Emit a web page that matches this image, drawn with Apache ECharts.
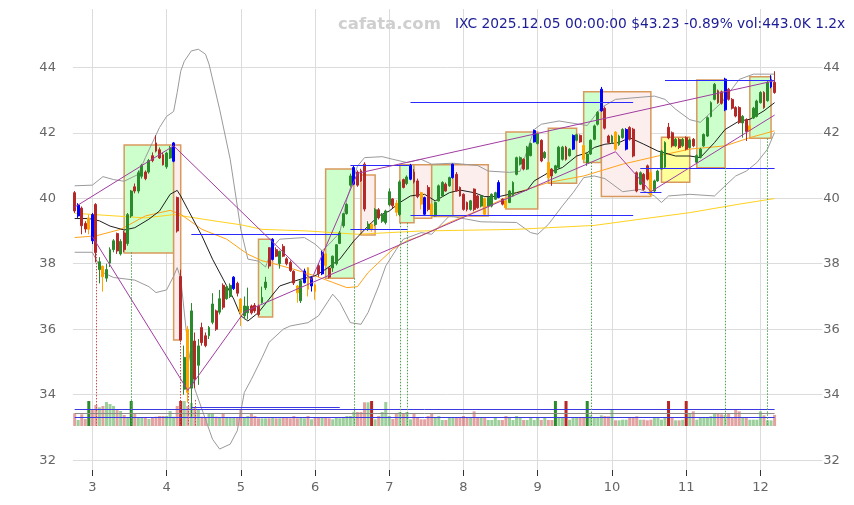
<!DOCTYPE html>
<html>
<head>
<meta charset="utf-8">
<script src="https://cdn.jsdelivr.net/npm/echarts@6/dist/echarts.min.js"></script>
<style>
  html, body { margin: 0; padding: 0; background: #fff; }
  #chart { width: 854px; height: 505px; }
</style>
</head>
<body>
<div id="chart"></div>
<script>
// trading calendar (categories)
const firstDay = '2025-02-24';
const lastDay = '2025-12-05';
const holidays = ['2025-04-18', '2025-05-26', '2025-06-19', '2025-07-04', '2025-09-01', '2025-11-27'];

// daily OHLC
const opens = [
  40.17,39.46,39.70,39.23,39.05,39.50,39.81,37.82,37.92,37.56,
  38.02,38.43,38.92,38.30,38.94,38.62,39.46,40.35,40.22,40.67,
  40.80,40.80,41.30,41.69,41.48,41.33,40.96,41.23,41.13,40.02,
  37.61,34.17,36.00,34.20,35.64,34.90,36.05,35.80,35.80,36.21,
  36.56,36.52,37.34,36.93,37.00,37.24,37.40,36.92,36.41,36.50,
  36.71,36.73,36.70,36.81,37.27,38.49,38.13,38.43,38.00,38.53,
  38.15,38.04,37.77,37.32,36.87,37.42,37.88,37.32,37.35,37.94,
  37.69,38.30,37.87,37.87,38.00,38.62,39.16,39.53,40.40,40.43,
  40.80,40.84,41.04,39.06,39.20,39.20,39.65,39.30,39.26,39.80,
  39.98,39.85,39.50,40.57,40.45,40.58,40.80,40.53,40.17,40.02,
  40.33,39.82,39.46,39.92,40.07,40.43,40.38,40.63,40.73,40.33,
  40.12,39.87,39.66,40.28,40.07,39.76,39.99,39.76,39.76,39.97,
  40.02,39.97,39.92,39.87,40.07,40.73,41.04,41.19,40.89,41.30,
  41.72,41.67,41.77,41.24,41.09,40.89,40.78,40.94,41.19,41.56,
  41.30,41.50,41.77,41.92,41.61,41.09,41.35,41.80,42.26,42.67,
  42.75,41.90,41.70,42.02,41.64,41.85,41.50,42.16,42.11,40.78,
  40.43,40.73,40.99,40.78,40.22,40.53,40.89,40.95,42.17,42.00,
  41.60,41.80,41.60,41.85,41.55,41.80,41.10,41.25,41.60,41.90,
  42.50,43.02,43.28,43.25,42.70,43.33,43.02,42.77,42.77,42.30,
  42.40,42.06,42.45,42.50,42.92,43.23,42.98,43.40,43.54
];
const closes = [
  39.61,39.79,39.16,39.06,39.40,38.70,38.34,38.06,37.60,37.82,
  38.43,38.70,38.39,38.68,38.43,39.50,40.22,40.22,40.78,41.00,
  40.60,41.15,41.15,41.44,41.23,41.02,41.38,41.54,41.69,39.00,
  35.67,35.14,34.07,36.56,34.48,35.49,35.59,35.50,36.05,36.77,
  36.00,36.93,36.67,37.29,37.34,37.59,37.10,36.51,36.71,36.70,
  36.50,36.56,36.45,36.97,37.44,37.93,38.74,38.23,38.38,38.23,
  38.00,37.79,37.41,37.11,37.48,37.78,37.22,37.58,37.15,37.69,
  38.35,37.95,37.59,38.23,38.58,38.94,39.53,39.81,40.68,40.94,
  40.40,40.53,39.67,39.21,39.05,39.65,39.40,39.50,39.61,40.20,
  39.77,39.57,40.50,40.33,40.65,41.01,40.50,40.05,39.82,39.51,
  39.66,39.46,39.87,40.38,40.48,40.22,40.63,41.04,40.22,40.07,
  39.66,39.66,39.92,39.66,39.71,40.07,39.51,40.02,40.12,40.17,
  40.48,39.82,39.71,40.22,40.48,41.24,41.24,40.89,41.56,41.67,
  42.07,41.97,41.14,41.40,40.63,40.68,40.99,41.56,41.56,41.19,
  41.50,41.92,41.94,41.72,41.19,41.35,41.77,42.21,42.62,43.33,
  42.14,41.70,41.90,41.50,41.90,42.10,42.10,41.80,41.29,40.22,
  40.78,40.27,40.58,40.11,40.53,40.83,41.44,41.70,41.84,41.60,
  41.80,41.55,41.80,41.50,41.78,41.60,41.30,41.50,41.95,42.46,
  42.92,43.48,42.92,42.90,43.64,43.02,42.75,42.51,42.31,42.50,
  42.04,42.21,42.75,42.97,43.23,42.77,43.54,43.62,43.23
];
const lows = [
  39.55,39.40,38.90,38.95,38.90,38.60,38.04,37.40,37.15,37.45,
  37.90,38.35,38.30,38.25,38.35,38.55,39.40,40.15,40.15,40.60,
  40.55,40.75,41.10,41.40,41.20,41.00,40.90,41.20,41.10,38.95,
  35.60,34.00,33.76,33.33,34.20,34.30,35.50,35.45,35.70,36.15,
  35.95,36.45,36.60,36.90,36.95,37.20,37.00,36.10,36.30,36.30,
  36.45,36.50,36.40,36.78,37.20,37.85,38.10,38.20,37.85,38.20,
  37.95,37.75,37.35,36.81,36.80,37.40,37.00,37.15,36.90,37.60,
  37.65,37.90,37.55,37.75,37.95,38.60,39.10,39.50,40.35,40.40,
  40.35,40.50,39.60,39.00,38.98,39.15,39.35,39.25,39.20,39.75,
  39.70,39.45,39.45,40.30,40.40,40.55,40.45,40.00,39.66,39.48,
  39.60,39.42,39.44,39.90,40.05,40.20,40.35,40.60,40.20,40.05,
  39.62,39.60,39.62,39.60,39.68,39.72,39.47,39.72,39.72,39.95,
  40.00,39.78,39.68,39.85,40.05,40.70,41.00,40.85,40.86,41.28,
  41.70,41.64,41.10,41.20,40.58,40.38,40.75,40.90,41.15,41.15,
  41.27,41.47,41.74,41.69,41.15,40.99,41.32,41.77,42.22,42.64,
  42.10,41.66,41.66,41.45,41.60,41.82,41.46,41.76,41.25,40.18,
  40.40,40.23,40.54,40.06,40.18,40.50,40.86,40.92,41.80,41.55,
  41.56,41.50,41.56,41.46,41.52,41.56,41.06,41.22,41.57,41.87,
  42.47,42.99,42.88,42.86,42.66,42.98,42.71,42.47,42.27,41.85,
  41.75,42.03,42.42,42.47,42.89,42.73,42.95,43.36,43.19
];
const highs = [
  40.22,39.85,39.75,39.30,39.50,39.55,39.85,38.20,37.95,38.00,
  38.50,38.75,38.95,38.75,39.00,39.55,40.25,40.45,40.85,41.05,
  40.85,41.20,41.40,41.92,41.55,41.40,41.42,41.60,41.72,40.05,
  37.82,35.50,36.10,36.80,35.90,35.70,36.20,35.90,36.10,37.10,
  36.60,37.20,37.40,37.35,37.40,37.62,37.45,36.95,37.00,37.27,
  36.75,36.80,36.75,37.30,37.60,38.50,38.78,38.50,38.40,38.60,
  38.20,38.10,37.80,37.35,37.50,37.85,37.90,37.60,37.40,38.00,
  38.40,38.50,37.90,38.25,38.60,39.00,39.55,39.85,40.75,41.00,
  40.85,40.90,41.10,39.30,39.25,39.70,39.70,39.55,39.65,40.30,
  40.00,39.95,40.55,40.60,40.70,41.05,40.89,40.60,40.20,40.05,
  40.40,39.85,39.90,40.42,40.52,40.48,40.66,41.06,40.80,40.36,
  40.15,39.90,39.95,40.30,40.10,40.10,40.02,40.05,40.15,40.20,
  40.55,40.00,39.95,40.25,40.52,41.27,41.28,41.22,41.60,41.70,
  42.10,42.00,41.80,41.44,41.12,40.92,41.02,41.60,41.60,41.60,
  41.53,41.95,41.97,41.95,41.64,41.38,41.80,42.25,42.66,43.40,
  42.80,41.94,41.94,42.05,41.94,42.14,42.14,42.20,42.15,40.82,
  40.82,40.77,41.03,40.82,40.57,40.87,41.48,41.74,42.30,42.04,
  41.84,41.84,41.84,41.89,41.82,41.84,41.34,41.54,41.98,42.50,
  42.96,43.52,43.32,43.29,43.68,43.37,43.06,42.81,42.81,42.54,
  42.44,42.25,42.79,43.01,43.27,43.27,43.58,43.76,43.88
];
// volume, thousands of shares
const volumes = [
  508,240,468,280,1000,640,840,748,800,960,
  880,800,640,600,440,360,1000,508,348,348,
  348,280,348,372,400,400,400,600,372,800,
  1000,1000,800,920,720,640,372,320,508,508,
  372,320,508,320,320,320,320,640,360,400,
  480,400,308,308,308,308,360,308,308,360,
  360,308,400,308,320,308,400,268,320,360,
  320,348,308,268,320,308,360,400,400,572,
  560,560,948,948,1000,268,400,560,960,400,
  280,480,560,480,560,268,480,320,268,268,
  400,480,320,400,240,240,320,320,320,320,
  400,320,320,588,320,320,320,240,240,320,
  240,240,400,320,240,400,320,240,240,320,
  240,320,240,320,240,240,1000,320,320,1000,
  252,320,320,320,320,1000,428,320,320,428,
  400,388,652,228,228,252,252,320,320,388,
  252,252,228,252,320,320,252,320,1000,320,
  228,228,252,1000,492,588,252,320,320,320,
  388,492,492,468,440,492,320,652,588,320,
  320,252,252,252,588,428,228,228,443
];
const blueIdx = [1,5,28,45,56,65,67,70,79,95,99,107,120,130,141,149,156,184,197];
const orangeIdx = [4,8,32,47,63,66,68,71,84,91,98,101,116,122,134,144,153,163,191];
const spikeIdx = [4,16,30,84,136,139,145,168,173];

const xTickIdx = [5,26,47,68,89,110,131,152,173,194];
const xTickLabels = ['3','4','5','6','7','8','9','10','11','12'];

// indicator lines, [day index, price]
const bbUpper = [[0,40.38],[5,40.4],[8,40.66],[11,40.57],[14,40.52],[18,40.73],[20,41.24],[22,41.7],[24,42.16],[26,42.5],[28,42.65],[29,43.23],[30,43.88],[31,44.18],[33,44.5],[35,44.55],[37,44.4],[38,44.1],[41,42.72],[44,41.19],[47,39.05],[49,38.14],[52,38.08],[54,37.9],[56,38.5],[58,38.75],[65,38.8],[68,38.6],[70,38.4],[72,38.6],[75,38.95],[77,39.97],[80,40.98],[82,41.24],[87,41.27],[90,41.19],[94,41.09],[98,41.19],[101,41.04],[107,41.07],[114,41.0],[117,40.83],[123,40.79],[126,40.82],[130,42.1],[132,42.26],[137,42.36],[145,42.22],[149,42.77],[153,43.02],[164,43.12],[167,43.02],[170,42.72],[174,42.4],[177,42.32],[183,42.92],[188,43.63],[192,43.79],[198,43.79]];
const bbLower = [[0,38.35],[5,38.35],[8,37.73],[11,37.58],[17,37.5],[21,37.3],[23,37.12],[26,37.2],[28,37.62],[29,37.88],[30,37.55],[32,35.5],[34,34.17],[37,33.25],[39,32.64],[41,32.34],[44,32.49],[46,32.9],[48,34.07],[50,34.47],[53,35.13],[55,35.6],[59,36.0],[61,36.1],[66,36.2],[69,36.41],[73,37.07],[75,36.82],[78,36.2],[81,36.15],[83,36.51],[86,37.32],[88,37.93],[91,38.44],[93,38.75],[98,38.95],[101,38.9],[106,39.46],[115,39.28],[125,39.26],[129,38.95],[131,38.9],[134,39.2],[138,39.77],[141,40.17],[144,40.63],[147,40.68],[150,40.6],[155,40.2],[160,40.27],[164,40.07],[166,39.87],[168,40.07],[174,40.12],[181,40.07],[184,40.38],[187,40.68],[190,40.83],[193,41.09],[196,41.5],[198,42.01]];
const bbMiddle = [[0,39.38],[4,39.38],[7,39.31],[10,39.15],[14,39.03],[17,39.1],[21,39.36],[24,39.61],[27,40.12],[29,40.24],[30,40.07],[32,39.66],[33,39.46],[36,38.85],[39,38.14],[42,37.53],[45,36.92],[47,36.41],[49,36.25],[52,36.51],[55,36.92],[58,37.32],[61,37.43],[64,37.53],[68,37.63],[71,37.83],[75,38.14],[79,38.7],[83,39.15],[86,39.46],[89,39.61],[92,39.87],[95,40.07],[97,40.1],[99,40.12],[102,39.92],[106,40.17],[109,40.25],[113,40.17],[116,40.05],[120,40.05],[125,40.17],[128,40.25],[130,40.53],[134,40.78],[138,40.94],[142,41.29],[145,41.39],[147,41.55],[150,41.65],[154,41.7],[157,41.85],[161,41.65],[165,41.44],[170,41.29],[174,41.29],[177,41.24],[181,41.7],[184,42.1],[188,42.36],[191,42.41],[195,42.67],[198,42.92]];
const maOrange = [[0,38.8],[6,38.85],[13,39.05],[20,39.46],[27,39.63],[30,39.51],[36,39.05],[43,38.75],[47,38.44],[49,38.29],[53,38.09],[55,38.04],[62,37.83],[68,37.63],[73,37.43],[77,37.27],[80,37.3],[83,37.73],[87,38.14],[90,38.44],[94,38.7],[98,38.85],[106,39.26],[115,39.66],[125,40.17],[134,40.48],[144,40.68],[155,41.04],[165,41.29],[174,41.5],[184,41.6],[191,41.85],[198,42.06]];
const maYellow = [[0,39.54],[20,39.4],[28,39.5],[40,39.3],[47,39.19],[53,39.05],[66,39.0],[80,38.9],[98,39.0],[125,39.05],[134,39.1],[147,39.17],[160,39.36],[174,39.56],[188,39.82],[198,39.99]];

// trend boxes: [from, to, low, high, kind]
const boxes = [
  [14,28,38.33,41.63,'up'],[28,30,35.67,41.63,'down'],[52,56,36.37,38.75,'up'],
  [71,79,37.56,40.89,'up'],[81,85,38.88,40.71,'down'],[92,96,39.25,41.02,'up'],
  [96,101,39.39,41.02,'down'],[101,107,39.44,41.02,'up'],[107,117,39.46,41.02,'down'],
  [122,131,39.67,42.02,'up'],[134,142,40.46,42.14,'up'],[144,149,41.09,43.25,'up'],
  [149,163,40.05,43.25,'down'],[166,174,40.49,41.86,'flat'],[176,184,40.93,43.61,'up'],
  [191,197,41.83,43.71,'up']
];
// support / resistance: [from, to, price]
const levels = [
  [33,75,38.91],[78,95,41.01],[78,94,39.04],[95,158,42.93],[95,158,39.47],
  [160,198,40.92],[160,166,40.19],[167,198,43.61]
];
// trend segments: [from, price, to, price]
const trends = [
  [0,39.73,28,41.6],[5,38.83,32,34.13],[28,41.6,67,37.51],[32,34.13,48,36.53],
  [48,36.53,153,41.42],[67,37.51,80,40.76],[80,40.76,198,43.59],
  [153,41.42,163,40.2],[163,40.2,198,42.54]
];
// volume signals: [day index, price where the mark starts, kind]
const signals = [
  [6,38.3,'down'],[16,38.35,'up'],[30,35.67,'down'],[32,34.05,'down'],[34,33.84,'down'],
  [79,37.56,'up'],[92,39.25,'up'],[94,39.25,'up'],[146,41.09,'up'],[184,40.93,'up'],[196,41.83,'up']
];
// volume reference levels: [from, to, volume]
const volLevels = [[0,198,668,'b'],[0,198,508,'g'],[0,198,348,'b'],[33,75,748,'b']];

const headerText = 'IXC 2025.12.05 00:00:00 $43.23 -0.89% vol:443.0K 1.2x';

// ---------------------------------------------------------------
function tradingDays(from, to, skip) {
  const out = [];
  const d = new Date(from + 'T00:00:00Z');
  const end = new Date(to + 'T00:00:00Z');
  while (d <= end) {
    const s = d.toISOString().slice(0, 10);
    const wd = d.getUTCDay();
    if (wd !== 0 && wd !== 6 && skip.indexOf(s) < 0) out.push(s);
    d.setUTCDate(d.getUTCDate() + 1);
  }
  return out;
}
const dates = tradingDays(firstDay, lastDay, holidays).slice(0, opens.length);
const pads = [];
for (let k = 0; k < 13; k++) pads.push('pad' + k);
const cats = dates.concat(pads);
const tickSet = new Set(xTickIdx);
const labelOf = {};
xTickIdx.forEach((ix, k) => { labelOf[dates[ix]] = xTickLabels[k]; });

const UP = '#2b8a2b', DOWN = '#b52828', BLUE = '#0000ff', ORANGE = '#ffa500';

const candleData = opens.map((o, i) => {
  const item = { value: [o, closes[i], lows[i], highs[i]] };
  let c = null;
  if (blueIdx.indexOf(i) >= 0) c = BLUE;
  else if (orangeIdx.indexOf(i) >= 0) c = ORANGE;
  if (c) item.itemStyle = { color: c, color0: c, borderColor: c, borderColor0: c };
  return item;
});
const volData = volumes.map((v, i) => {
  const up = closes[i] >= opens[i];
  const spike = spikeIdx.indexOf(i) >= 0;
  let col;
  if (spike) col = up ? '#2b8a2b' : '#b52828';
  else col = up ? 'rgba(60,160,60,0.5)' : 'rgba(200,70,70,0.5)';
  return { value: v, itemStyle: { color: col } };
});

const boxFill = { up: '#ccffcc', down: '#fdeeee', flat: '#ffff99' };
const boxAreas = boxes.map(b => [
  { xAxis: b[0], yAxis: b[2], itemStyle: { color: boxFill[b[4]], borderColor: '#d9985c', borderWidth: 1.5 } },
  { xAxis: b[1], yAxis: b[3] }
]);
const seg = (x1, y1, x2, y2, style) => [
  { coord: [x1, y1], lineStyle: style },
  { coord: [x2, y2] }
];
const overlayLines = []
  .concat(levels.map(l => seg(l[0], l[2], l[1], l[2], { color: '#2a2aff', width: 1, type: 'solid' })))
  .concat(trends.map(t => seg(t[0], t[1], t[2], t[3], { color: '#a23ca2', width: 1, type: 'solid' })))
  .concat(signals.map(s => seg(s[0], s[1], s[0], 33.05, { color: s[2] === 'up' ? '#4aa84a' : '#cc4a4a', width: 1, type: [1.5, 1.5] })));
const volLines = volLevels.map(l => seg(l[0], l[2], l[1], l[2], { color: l[3] === 'b' ? '#3a3ae0' : '#8a8a8a', width: 1, type: 'solid' }));

const Y_MIN = 31.70, Y_MAX = 45.78;
const FONT = 'DejaVu Sans';
const GL = 72.9, GR = 854 - 822.3;

const lineSeries = (name, data, color, z) => ({
  name, type: 'line', data, xAxisIndex: 0, yAxisIndex: 0,
  showSymbol: false, symbol: 'none', smooth: false, silent: true, z: z || 3,
  lineStyle: { color, width: 1 }
});

const option = {
  animation: false,
  backgroundColor: '#ffffff',
  title: [
    { text: 'cafata.com', left: 338, top: 16, padding: 0,
      textStyle: { color: '#cfcfcf', fontSize: 16.5, fontWeight: 'bold', fontFamily: FONT } },
    { text: headerText, left: 455, top: 17, padding: 0,
      textStyle: { color: '#1c1c96', fontSize: 13.8, fontWeight: 'normal', fontFamily: FONT } }
  ],
  grid: [
    { left: GL, right: GR, top: 9, bottom: 35 },
    { left: GL, right: GR, top: 366, bottom: 79 }
  ],
  xAxis: [
    {
      type: 'category', data: cats, gridIndex: 0, boundaryGap: true,
      axisLine: { show: false },
      axisTick: { show: true, alignWithLabel: true, interval: (i) => tickSet.has(i), length: 6, lineStyle: { color: '#333' } },
      axisLabel: { interval: (i) => tickSet.has(i), formatter: (v) => labelOf[v] || '', color: '#666', fontSize: 13, margin: 11, fontFamily: FONT },
      splitLine: { show: true, alignWithLabel: true, interval: (i) => tickSet.has(i), lineStyle: { color: '#dcdcdc', width: 1 } }
    },
    { type: 'category', data: cats, gridIndex: 1, show: false, boundaryGap: true }
  ],
  yAxis: [
    {
      type: 'value', gridIndex: 0, min: Y_MIN, max: Y_MAX, splitNumber: 7, position: 'left',
      axisLine: { show: false }, axisTick: { show: false },
      axisLabel: { showMinLabel: false, showMaxLabel: false, color: '#666', fontSize: 13, margin: 17, fontFamily: FONT,
                   formatter: (v) => String(Math.round(v)) },
      splitLine: { show: true, showMinLine: false, showMaxLine: false, lineStyle: { color: '#dcdcdc', width: 1 } }
    },
    {
      type: 'value', gridIndex: 0, min: Y_MIN, max: Y_MAX, splitNumber: 7, position: 'right',
      axisLine: { show: false }, axisTick: { show: false },
      axisLabel: { showMinLabel: false, showMaxLabel: false, color: '#666', fontSize: 13, margin: 1, fontFamily: FONT,
                   formatter: (v) => String(Math.round(v)) },
      splitLine: { show: false }
    },
    { type: 'value', gridIndex: 1, min: 0, max: 2400, show: false, splitLine: { show: false } }
  ],
  series: [
    {
      name: 'boxes', type: 'line', data: [], xAxisIndex: 0, yAxisIndex: 0, z: 1, silent: true,
      markArea: { silent: true, data: boxAreas }
    },
    {
      name: 'volume', type: 'bar', data: volData, xAxisIndex: 1, yAxisIndex: 2,
      barWidth: '85%', silent: true, z: 2,
      markLine: { silent: true, symbol: ['none', 'none'], label: { show: false }, data: volLines }
    },
    lineSeries('bbUpper', bbUpper, '#9a9a9a', 3),
    lineSeries('bbLower', bbLower, '#9a9a9a', 3),
    lineSeries('maYellow', maYellow, '#ffd21f', 3),
    lineSeries('maOrange', maOrange, '#ffa41c', 3),
    lineSeries('bbMiddle', bbMiddle, '#1e1e1e', 3),
    {
      name: 'IXC', type: 'candlestick', data: candleData, xAxisIndex: 0, yAxisIndex: 0,
      barWidth: 2.4, z: 4, silent: true,
      itemStyle: { color: UP, color0: DOWN, borderColor: UP, borderColor0: DOWN, borderWidth: 1 }
    },
    {
      name: 'overlays', type: 'line', data: [], xAxisIndex: 0, yAxisIndex: 0, z: 5, silent: true,
      markLine: { silent: true, symbol: ['none', 'none'], label: { show: false }, data: overlayLines }
    }
  ]
};

const chart = echarts.init(document.getElementById('chart'));
chart.setOption(option);
</script>
</body>
</html>
